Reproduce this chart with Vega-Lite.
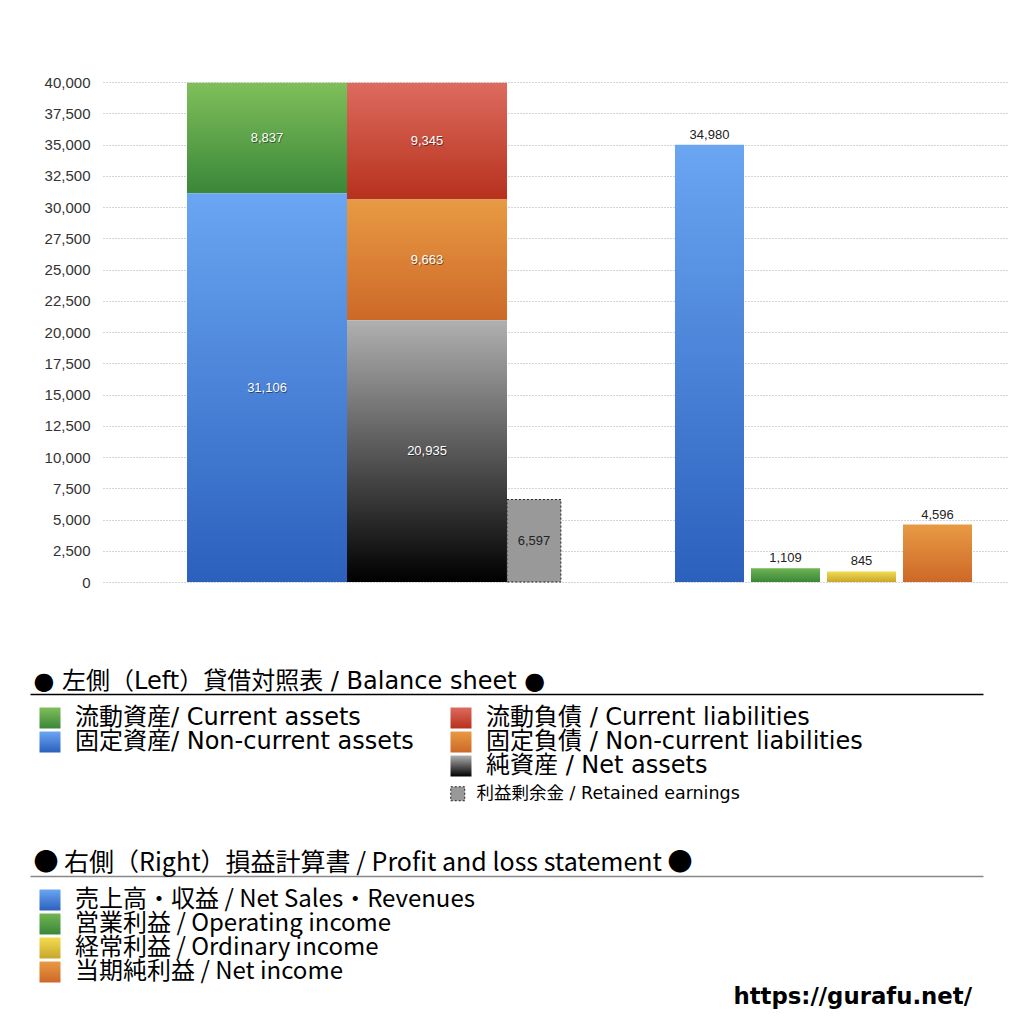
{
  "$schema": "https://vega.github.io/schema/vega-lite/v6.json",
  "width": 904,
  "height": 500,
  "autosize": {"type": "none"},
  "padding": {"left": 103, "top": 82, "right": 17, "bottom": 442},
  "datasets": {
    "bs": [
      {"side": "借方", "item": "流動資産/ Current assets", "value": 8837},
      {"side": "借方", "item": "固定資産/ Non-current assets", "value": 31106},
      {"side": "貸方", "item": "流動負債 /  Current liabilities", "value": 9345},
      {"side": "貸方", "item": "固定負債 / Non-current liabilities", "value": 9663},
      {"side": "貸方", "item": "純資産 / Net assets", "value": 20935}
    ],
    "re": [
      {"side": "利益剰余金", "item": "利益剰余金 / Retained earnings", "value": 6597}
    ],
    "pl": [
      {"item": "売上高・収益 / Net Sales・Revenues", "value": 34980},
      {"item": "営業利益 / Operating income", "value": 1109},
      {"item": "経常利益 / Ordinary income", "value": 845},
      {"item": "当期純利益 / Net income", "value": 4596}
    ]
  },
  "title": {
    "text": "https://gurafu.net/",
    "orient": "bottom",
    "anchor": "end",
    "frame": "group",
    "font": "DejaVu Sans",
    "fontSize": 22.8,
    "fontWeight": "bold",
    "color": "#000",
    "offset": 2,
    "dx": -35
  },
  "config": {
    "view": {"stroke": null},
    "axisY": {
      "grid": true,
      "gridDash": [1, 2],
      "gridColor": "#a8a8a8",
      "domain": false,
      "ticks": false,
      "labelPadding": 13,
      "labelFont": "Liberation Sans",
      "labelFontSize": 15,
      "labelColor": "#333",
      "labelOverlap": false,
      "title": null
    },
    "legend": {
      "padding": 0,
      "symbolType": "square",
      "symbolSize": 441,
      "symbolStrokeWidth": 0,
      "labelFont": "DejaVu Sans, Noto Sans CJK JP",
      "labelFontSize": 24,
      "labelColor": "#000",
      "labelOffset": 13,
      "labelLimit": 700,
      "rowPadding": 0,
      "title": null
    }
  },
  "resolve": {
    "scale": {"x": "independent", "color": "independent"},
    "axis": {"x": "independent"},
    "legend": {"color": "independent"}
  },
  "layer": [
    {
      "data": {"name": "bs"},
      "encoding": {
        "x": {
          "field": "side",
          "type": "nominal",
          "scale": {"domain": ["借方", "貸方", "_1", "_2"], "range": [0, 904], "paddingInner": 0, "paddingOuter": 0.825, "align": 0.3182},
          "axis": null
        }
      },
      "resolve": {"scale": {"color": "independent"}, "legend": {"color": "independent"}},
      "layer": [
        {
          "transform": [{"filter": "datum.side === '借方'"}],
          "mark": {"type": "bar"},
          "encoding": {
            "y": {
              "field": "value",
              "type": "quantitative",
              "stack": "zero",
              "scale": {"domain": [0, 40000], "nice": false},
              "axis": {"values": [0, 2500, 5000, 7500, 10000, 12500, 15000, 17500, 20000, 22500, 25000, 27500, 30000, 32500, 35000, 37500, 40000], "format": ",d"}
            },
            "color": {
              "field": "item",
              "type": "nominal",
              "scale": {
                "domain": ["流動資産/ Current assets", "固定資産/ Non-current assets"],
                "range": [
                  {"expr": "{gradient: 'linear', x1: 0, y1: 0, x2: 0, y2: 1, stops: [{offset: 0, color: '#7fbf5a'}, {offset: 1, color: '#3a8739'}]}"},
                  {"expr": "{gradient: 'linear', x1: 0, y1: 0, x2: 0, y2: 1, stops: [{offset: 0, color: '#6aa6f2'}, {offset: 1, color: '#2b60bd'}]}"}
                ]
              },
              "legend": {"orient": "none", "legendX": -65, "legendY": 624}
            },
            "order": {"field": "value", "sort": "descending"}
          }
        },
        {
          "transform": [{"filter": "datum.side === '貸方'"}],
          "mark": {"type": "bar"},
          "encoding": {
            "y": {
              "field": "value",
              "type": "quantitative",
              "stack": "zero",
              "scale": {"domain": [0, 40000], "nice": false},
              "axis": {"values": [0, 2500, 5000, 7500, 10000, 12500, 15000, 17500, 20000, 22500, 25000, 27500, 30000, 32500, 35000, 37500, 40000], "format": ",d"}
            },
            "color": {
              "field": "item",
              "type": "nominal",
              "scale": {
                "domain": ["流動負債 /  Current liabilities", "固定負債 / Non-current liabilities", "純資産 / Net assets"],
                "range": [
                  {"expr": "{gradient: 'linear', x1: 0, y1: 0, x2: 0, y2: 1, stops: [{offset: 0, color: '#dd6b5f'}, {offset: 1, color: '#b7311c'}]}"},
                  {"expr": "{gradient: 'linear', x1: 0, y1: 0, x2: 0, y2: 1, stops: [{offset: 0, color: '#e89a43'}, {offset: 1, color: '#cd6828'}]}"},
                  {"expr": "{gradient: 'linear', x1: 0, y1: 0, x2: 0, y2: 1, stops: [{offset: 0, color: '#b0b0b0'}, {offset: 1, color: '#000000'}]}"}
                ]
              },
              "legend": {"orient": "none", "legendX": 346, "legendY": 624}
            },
            "order": {"field": "value", "sort": "descending"}
          }
        },
        {
          "transform": [
            {"stack": "value", "groupby": ["side"], "sort": [{"field": "value", "order": "descending"}], "as": ["y0", "y1"]},
            {"fold": ["y0", "y1"], "as": ["k", "v"]},
            {"aggregate": [{"op": "mean", "field": "v", "as": "mid"}], "groupby": ["side", "value"]}
          ],
          "mark": {"type": "text", "font": "Liberation Sans", "fontSize": 13, "color": "#000", "opacity": 0.45, "dx": 0.8, "dy": 1, "baseline": "middle"},
          "encoding": {
            "y": {
              "field": "mid",
              "type": "quantitative",
              "scale": {"domain": [0, 40000], "nice": false},
              "axis": {"values": [0, 2500, 5000, 7500, 10000, 12500, 15000, 17500, 20000, 22500, 25000, 27500, 30000, 32500, 35000, 37500, 40000], "format": ",d"}
            },
            "text": {"field": "value", "type": "quantitative", "format": ","}
          }
        },
        {
          "transform": [
            {"stack": "value", "groupby": ["side"], "sort": [{"field": "value", "order": "descending"}], "as": ["y0", "y1"]},
            {"fold": ["y0", "y1"], "as": ["k", "v"]},
            {"aggregate": [{"op": "mean", "field": "v", "as": "mid"}], "groupby": ["side", "value"]}
          ],
          "mark": {"type": "text", "font": "Liberation Sans", "fontSize": 13, "color": "#fff", "baseline": "middle"},
          "encoding": {
            "y": {
              "field": "mid",
              "type": "quantitative",
              "scale": {"domain": [0, 40000], "nice": false},
              "axis": {"values": [0, 2500, 5000, 7500, 10000, 12500, 15000, 17500, 20000, 22500, 25000, 27500, 30000, 32500, 35000, 37500, 40000], "format": ",d"}
            },
            "text": {"field": "value", "type": "quantitative", "format": ","}
          }
        }
      ]
    },
    {
      "data": {"name": "re"},
      "encoding": {
        "x": {
          "field": "side",
          "type": "nominal",
          "scale": {"range": [-73, 880], "paddingInner": 0.88, "paddingOuter": 1, "align": 0.5305},
          "axis": {
            "title": "● 左側（Left）貸借対照表 / Balance sheet ●",
            "orient": "bottom",
            "offset": 112,
            "labels": false,
            "ticks": false,
            "grid": false,
            "domainColor": "#000",
            "domainWidth": 1.5,
            "titleFont": "DejaVu Sans, Noto Sans CJK JP",
            "titleFontSize": 24,
            "titleFontWeight": "normal",
            "titleColor": "#000",
            "titleAlign": "left",
            "titleAnchor": "start",
            "titleBaseline": "alphabetic",
            "titleX": -70,
            "titleY": -6
          }
        }
      },
      "layer": [
        {
          "mark": {"type": "bar", "stroke": "#222", "strokeWidth": 1, "strokeDash": [2, 2]},
          "encoding": {
            "y": {
              "field": "value",
              "type": "quantitative",
              "scale": {"domain": [0, 40000], "nice": false},
              "axis": {"values": [0, 2500, 5000, 7500, 10000, 12500, 15000, 17500, 20000, 22500, 25000, 27500, 30000, 32500, 35000, 37500, 40000], "format": ",d"}
            },
            "color": {
              "field": "item",
              "type": "nominal",
              "scale": {"range": ["#999999"]},
              "legend": {"orient": "none", "legendX": 346, "legendY": 703, "symbolSize": 196, "symbolStrokeColor": "#222", "symbolStrokeWidth": 1, "symbolDash": [2, 2], "labelFontSize": 17.5, "labelOffset": 10}
            }
          }
        },
        {
          "transform": [
            {"stack": "value", "groupby": ["side"], "as": ["y0", "y1"]},
            {"fold": ["y0", "y1"], "as": ["k", "v"]},
            {"aggregate": [{"op": "mean", "field": "v", "as": "mid"}], "groupby": ["side", "value"]}
          ],
          "mark": {"type": "text", "font": "Liberation Sans", "fontSize": 13, "color": "#222", "baseline": "middle"},
          "encoding": {
            "y": {
              "field": "mid",
              "type": "quantitative",
              "scale": {"domain": [0, 40000], "nice": false},
              "axis": {"values": [0, 2500, 5000, 7500, 10000, 12500, 15000, 17500, 20000, 22500, 25000, 27500, 30000, 32500, 35000, 37500, 40000], "format": ",d"}
            },
            "text": {"field": "value", "type": "quantitative", "format": ","}
          }
        }
      ]
    },
    {
      "data": {"name": "pl"},
      "encoding": {
        "x": {
          "field": "item",
          "type": "nominal",
          "sort": null,
          "scale": {
            "domain": ["_1", "_2", "_3", "_4", "_5", "_6", "_7", "_8", "売上高・収益 / Net Sales・Revenues", "営業利益 / Operating income", "経常利益 / Ordinary income", "当期純利益 / Net income"],
            "range": [-73, 880],
            "paddingInner": 0.0921,
            "paddingOuter": 0.3158,
            "align": 0.7708
          },
          "axis": {
            "title": "● 右側（Right）損益計算書 / Profit and loss statement ●",
            "orient": "bottom",
            "offset": 294,
            "labels": false,
            "ticks": false,
            "grid": false,
            "domainColor": "#888",
            "domainWidth": 1.5,
            "titleFont": "Noto Sans CJK JP",
            "titleFontSize": 25,
            "titleFontWeight": "normal",
            "titleColor": "#000",
            "titleAlign": "left",
            "titleAnchor": "start",
            "titleBaseline": "alphabetic",
            "titleX": -70,
            "titleY": -6
          }
        }
      },
      "layer": [
        {
          "mark": {"type": "bar"},
          "encoding": {
            "y": {
              "field": "value",
              "type": "quantitative",
              "scale": {"domain": [0, 40000], "nice": false},
              "axis": {"values": [0, 2500, 5000, 7500, 10000, 12500, 15000, 17500, 20000, 22500, 25000, 27500, 30000, 32500, 35000, 37500, 40000], "format": ",d"}
            },
            "color": {
              "field": "item",
              "type": "nominal",
              "scale": {
                "domain": ["売上高・収益 / Net Sales・Revenues", "営業利益 / Operating income", "経常利益 / Ordinary income", "当期純利益 / Net income"],
                "range": [
                  {"expr": "{gradient: 'linear', x1: 0, y1: 0, x2: 0, y2: 1, stops: [{offset: 0, color: '#6aa6f2'}, {offset: 1, color: '#2b60bd'}]}"},
                  {"expr": "{gradient: 'linear', x1: 0, y1: 0, x2: 0, y2: 1, stops: [{offset: 0, color: '#6fb552'}, {offset: 1, color: '#3a8739'}]}"},
                  {"expr": "{gradient: 'linear', x1: 0, y1: 0, x2: 0, y2: 1, stops: [{offset: 0, color: '#f3dc4e'}, {offset: 1, color: '#c8a62e'}]}"},
                  {"expr": "{gradient: 'linear', x1: 0, y1: 0, x2: 0, y2: 1, stops: [{offset: 0, color: '#e89a43'}, {offset: 1, color: '#cd6828'}]}"}
                ]
              },
              "legend": {"orient": "none", "legendX": -65, "legendY": 806, "labelFont": "Noto Sans CJK JP", "labelFontSize": 24}
            }
          }
        },
        {
          "mark": {"type": "text", "font": "Liberation Sans", "fontSize": 13, "color": "#222", "baseline": "bottom", "dy": -3},
          "encoding": {
            "y": {
              "field": "value",
              "type": "quantitative",
              "scale": {"domain": [0, 40000], "nice": false},
              "axis": {"values": [0, 2500, 5000, 7500, 10000, 12500, 15000, 17500, 20000, 22500, 25000, 27500, 30000, 32500, 35000, 37500, 40000], "format": ",d"}
            },
            "text": {"field": "value", "type": "quantitative", "format": ","}
          }
        }
      ]
    }
  ]
}
